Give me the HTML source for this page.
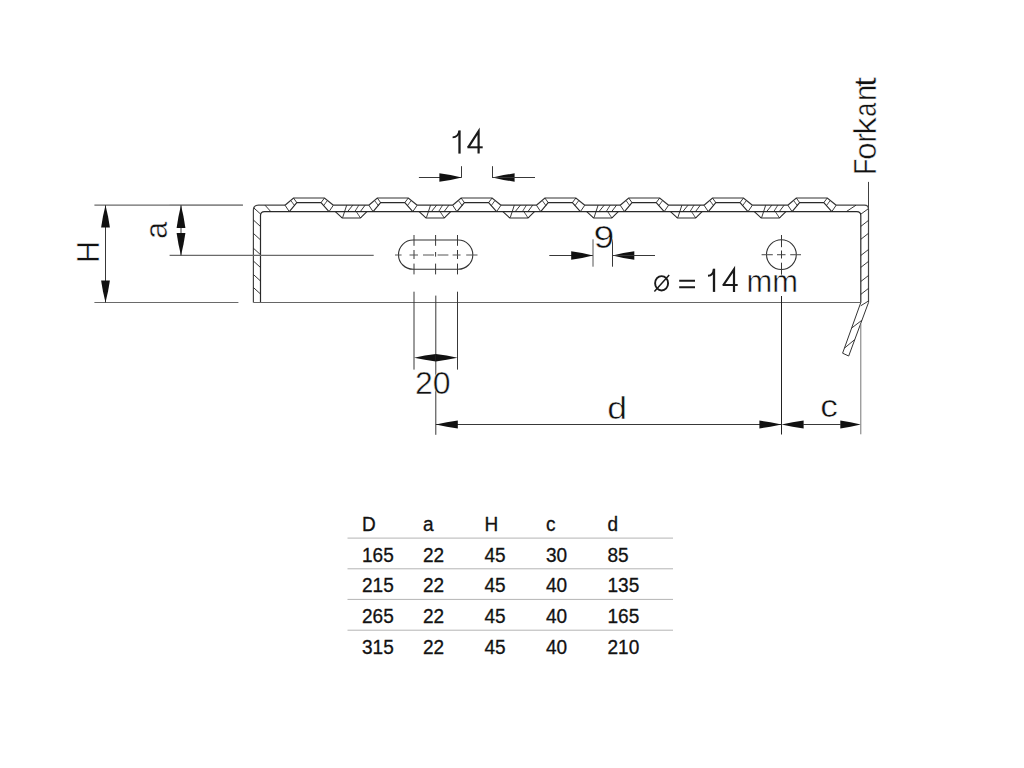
<!DOCTYPE html>
<html><head><meta charset="utf-8"><title>Drawing</title>
<style>
html,body{margin:0;padding:0;background:#fff;width:1024px;height:768px;overflow:hidden}
svg{position:absolute;left:0;top:0;display:block}
text{font-family:"Liberation Sans",sans-serif;fill:#111}
</style></head><body>
<svg width="1024" height="768" viewBox="0 0 1024 768">
<rect width="1024" height="768" fill="#fff"/>
<g stroke-linecap="butt">
<path d="M253.4,302.5 L253.4,210.2 Q253.4,205.2 258.4,205.2 L285,205.2" stroke="#444" stroke-width="1.2" fill="none"/>
<path d="M260.5,302.5 L260.5,215.6 Q260.5,211.6 264.5,211.6 L856.8,211.6 Q860.8,211.6 860.8,215.6 L860.8,302.5" stroke="#2a2a2a" stroke-width="1.2" fill="none"/>
<path d="M836.2,205.2 L864.5,205.2 Q868.5,205.2 868.5,209.2 L868.5,302.5" stroke="#444" stroke-width="1.2" fill="none"/>
<line x1="253.40" y1="302.50" x2="860.80" y2="302.50" stroke="#666" stroke-width="1.2"/>
<line x1="253.80" y1="207.90" x2="260.50" y2="214.00" stroke="#222" stroke-width="0.9"/>
<line x1="868.10" y1="208.90" x2="860.80" y2="214.20" stroke="#222" stroke-width="0.9"/>
<line x1="868.50" y1="181.90" x2="868.50" y2="208.20" stroke="#404040" stroke-width="1.0"/>
<line x1="265.00" y1="205.20" x2="270.80" y2="211.60" stroke="#222" stroke-width="0.9"/>
<line x1="846.30" y1="211.60" x2="856.00" y2="205.20" stroke="#222" stroke-width="0.9"/>
<line x1="253.40" y1="220.00" x2="260.50" y2="226.50" stroke="#222" stroke-width="0.9"/>
<line x1="253.40" y1="233.40" x2="260.50" y2="239.90" stroke="#222" stroke-width="0.9"/>
<line x1="253.40" y1="248.20" x2="260.50" y2="254.70" stroke="#222" stroke-width="0.9"/>
<line x1="253.40" y1="261.00" x2="260.50" y2="267.50" stroke="#222" stroke-width="0.9"/>
<line x1="253.40" y1="274.50" x2="260.50" y2="281.00" stroke="#222" stroke-width="0.9"/>
<line x1="253.40" y1="287.50" x2="260.50" y2="294.00" stroke="#222" stroke-width="0.9"/>
<line x1="860.80" y1="226.40" x2="868.50" y2="220.40" stroke="#222" stroke-width="0.9"/>
<line x1="860.80" y1="239.30" x2="868.50" y2="233.30" stroke="#222" stroke-width="0.9"/>
<line x1="860.80" y1="255.50" x2="868.50" y2="249.50" stroke="#222" stroke-width="0.9"/>
<line x1="860.80" y1="267.40" x2="868.50" y2="261.40" stroke="#222" stroke-width="0.9"/>
<line x1="860.80" y1="281.50" x2="868.50" y2="275.50" stroke="#222" stroke-width="0.9"/>
<line x1="860.80" y1="294.40" x2="868.50" y2="288.40" stroke="#222" stroke-width="0.9"/>
<path d="M285.00,205.2 L293.50,198.0 L324.50,198.0 L333.40,205.2" stroke="#333" stroke-width="1.2" fill="none"/>
<path d="M289.30,211.6 L296.80,202.6 L321.00,202.6 L329.00,211.6" stroke="#2a2a2a" stroke-width="1.1" fill="none"/>
<line x1="285.00" y1="205.20" x2="289.30" y2="211.60" stroke="#222" stroke-width="0.9"/>
<line x1="293.50" y1="198.00" x2="296.80" y2="202.60" stroke="#222" stroke-width="0.9"/>
<line x1="324.50" y1="198.00" x2="321.00" y2="202.60" stroke="#222" stroke-width="0.9"/>
<line x1="333.40" y1="205.20" x2="329.00" y2="211.60" stroke="#222" stroke-width="0.9"/>
<line x1="291.10" y1="200.90" x2="294.70" y2="205.80" stroke="#222" stroke-width="0.8"/>
<line x1="327.10" y1="200.90" x2="323.50" y2="205.80" stroke="#222" stroke-width="0.8"/>
<line x1="333.40" y1="205.20" x2="368.80" y2="205.20" stroke="#333" stroke-width="1.2"/>
<path d="M335.30,211.6 L341.30,217.2 Q342.30,218.0 343.30,218.0 L359.30,218.0 Q360.30,218.0 361.30,217.2 L366.90,211.6" stroke="#2a2a2a" stroke-width="1.1" fill="none"/>
<line x1="342.70" y1="217.40" x2="346.70" y2="205.20" stroke="#222" stroke-width="0.9"/>
<line x1="347.60" y1="211.60" x2="352.80" y2="205.20" stroke="#222" stroke-width="0.9"/>
<line x1="354.80" y1="211.60" x2="358.80" y2="205.20" stroke="#222" stroke-width="0.8"/>
<line x1="360.30" y1="211.60" x2="365.10" y2="205.20" stroke="#222" stroke-width="0.9"/>
<line x1="356.30" y1="211.60" x2="360.30" y2="217.70" stroke="#222" stroke-width="0.8"/>
<path d="M368.80,205.2 L377.30,198.0 L408.30,198.0 L417.20,205.2" stroke="#333" stroke-width="1.2" fill="none"/>
<path d="M373.10,211.6 L380.60,202.6 L404.80,202.6 L412.80,211.6" stroke="#2a2a2a" stroke-width="1.1" fill="none"/>
<line x1="368.80" y1="205.20" x2="373.10" y2="211.60" stroke="#222" stroke-width="0.9"/>
<line x1="377.30" y1="198.00" x2="380.60" y2="202.60" stroke="#222" stroke-width="0.9"/>
<line x1="408.30" y1="198.00" x2="404.80" y2="202.60" stroke="#222" stroke-width="0.9"/>
<line x1="417.20" y1="205.20" x2="412.80" y2="211.60" stroke="#222" stroke-width="0.9"/>
<line x1="374.90" y1="200.90" x2="378.50" y2="205.80" stroke="#222" stroke-width="0.8"/>
<line x1="410.90" y1="200.90" x2="407.30" y2="205.80" stroke="#222" stroke-width="0.8"/>
<line x1="417.20" y1="205.20" x2="452.60" y2="205.20" stroke="#333" stroke-width="1.2"/>
<path d="M419.10,211.6 L425.10,217.2 Q426.10,218.0 427.10,218.0 L443.10,218.0 Q444.10,218.0 445.10,217.2 L450.70,211.6" stroke="#2a2a2a" stroke-width="1.1" fill="none"/>
<line x1="426.50" y1="217.40" x2="430.50" y2="205.20" stroke="#222" stroke-width="0.9"/>
<line x1="431.40" y1="211.60" x2="436.60" y2="205.20" stroke="#222" stroke-width="0.9"/>
<line x1="438.60" y1="211.60" x2="442.60" y2="205.20" stroke="#222" stroke-width="0.8"/>
<line x1="444.10" y1="211.60" x2="448.90" y2="205.20" stroke="#222" stroke-width="0.9"/>
<line x1="440.10" y1="211.60" x2="444.10" y2="217.70" stroke="#222" stroke-width="0.8"/>
<path d="M452.60,205.2 L461.10,198.0 L492.10,198.0 L501.00,205.2" stroke="#333" stroke-width="1.2" fill="none"/>
<path d="M456.90,211.6 L464.40,202.6 L488.60,202.6 L496.60,211.6" stroke="#2a2a2a" stroke-width="1.1" fill="none"/>
<line x1="452.60" y1="205.20" x2="456.90" y2="211.60" stroke="#222" stroke-width="0.9"/>
<line x1="461.10" y1="198.00" x2="464.40" y2="202.60" stroke="#222" stroke-width="0.9"/>
<line x1="492.10" y1="198.00" x2="488.60" y2="202.60" stroke="#222" stroke-width="0.9"/>
<line x1="501.00" y1="205.20" x2="496.60" y2="211.60" stroke="#222" stroke-width="0.9"/>
<line x1="458.70" y1="200.90" x2="462.30" y2="205.80" stroke="#222" stroke-width="0.8"/>
<line x1="494.70" y1="200.90" x2="491.10" y2="205.80" stroke="#222" stroke-width="0.8"/>
<line x1="501.00" y1="205.20" x2="536.40" y2="205.20" stroke="#333" stroke-width="1.2"/>
<path d="M502.90,211.6 L508.90,217.2 Q509.90,218.0 510.90,218.0 L526.90,218.0 Q527.90,218.0 528.90,217.2 L534.50,211.6" stroke="#2a2a2a" stroke-width="1.1" fill="none"/>
<line x1="510.30" y1="217.40" x2="514.30" y2="205.20" stroke="#222" stroke-width="0.9"/>
<line x1="515.20" y1="211.60" x2="520.40" y2="205.20" stroke="#222" stroke-width="0.9"/>
<line x1="522.40" y1="211.60" x2="526.40" y2="205.20" stroke="#222" stroke-width="0.8"/>
<line x1="527.90" y1="211.60" x2="532.70" y2="205.20" stroke="#222" stroke-width="0.9"/>
<line x1="523.90" y1="211.60" x2="527.90" y2="217.70" stroke="#222" stroke-width="0.8"/>
<path d="M536.40,205.2 L544.90,198.0 L575.90,198.0 L584.80,205.2" stroke="#333" stroke-width="1.2" fill="none"/>
<path d="M540.70,211.6 L548.20,202.6 L572.40,202.6 L580.40,211.6" stroke="#2a2a2a" stroke-width="1.1" fill="none"/>
<line x1="536.40" y1="205.20" x2="540.70" y2="211.60" stroke="#222" stroke-width="0.9"/>
<line x1="544.90" y1="198.00" x2="548.20" y2="202.60" stroke="#222" stroke-width="0.9"/>
<line x1="575.90" y1="198.00" x2="572.40" y2="202.60" stroke="#222" stroke-width="0.9"/>
<line x1="584.80" y1="205.20" x2="580.40" y2="211.60" stroke="#222" stroke-width="0.9"/>
<line x1="542.50" y1="200.90" x2="546.10" y2="205.80" stroke="#222" stroke-width="0.8"/>
<line x1="578.50" y1="200.90" x2="574.90" y2="205.80" stroke="#222" stroke-width="0.8"/>
<line x1="584.80" y1="205.20" x2="620.20" y2="205.20" stroke="#333" stroke-width="1.2"/>
<path d="M586.70,211.6 L592.70,217.2 Q593.70,218.0 594.70,218.0 L610.70,218.0 Q611.70,218.0 612.70,217.2 L618.30,211.6" stroke="#2a2a2a" stroke-width="1.1" fill="none"/>
<line x1="594.10" y1="217.40" x2="598.10" y2="205.20" stroke="#222" stroke-width="0.9"/>
<line x1="599.00" y1="211.60" x2="604.20" y2="205.20" stroke="#222" stroke-width="0.9"/>
<line x1="606.20" y1="211.60" x2="610.20" y2="205.20" stroke="#222" stroke-width="0.8"/>
<line x1="611.70" y1="211.60" x2="616.50" y2="205.20" stroke="#222" stroke-width="0.9"/>
<line x1="607.70" y1="211.60" x2="611.70" y2="217.70" stroke="#222" stroke-width="0.8"/>
<path d="M620.20,205.2 L628.70,198.0 L659.70,198.0 L668.60,205.2" stroke="#333" stroke-width="1.2" fill="none"/>
<path d="M624.50,211.6 L632.00,202.6 L656.20,202.6 L664.20,211.6" stroke="#2a2a2a" stroke-width="1.1" fill="none"/>
<line x1="620.20" y1="205.20" x2="624.50" y2="211.60" stroke="#222" stroke-width="0.9"/>
<line x1="628.70" y1="198.00" x2="632.00" y2="202.60" stroke="#222" stroke-width="0.9"/>
<line x1="659.70" y1="198.00" x2="656.20" y2="202.60" stroke="#222" stroke-width="0.9"/>
<line x1="668.60" y1="205.20" x2="664.20" y2="211.60" stroke="#222" stroke-width="0.9"/>
<line x1="626.30" y1="200.90" x2="629.90" y2="205.80" stroke="#222" stroke-width="0.8"/>
<line x1="662.30" y1="200.90" x2="658.70" y2="205.80" stroke="#222" stroke-width="0.8"/>
<line x1="668.60" y1="205.20" x2="704.00" y2="205.20" stroke="#333" stroke-width="1.2"/>
<path d="M670.50,211.6 L676.50,217.2 Q677.50,218.0 678.50,218.0 L694.50,218.0 Q695.50,218.0 696.50,217.2 L702.10,211.6" stroke="#2a2a2a" stroke-width="1.1" fill="none"/>
<line x1="677.90" y1="217.40" x2="681.90" y2="205.20" stroke="#222" stroke-width="0.9"/>
<line x1="682.80" y1="211.60" x2="688.00" y2="205.20" stroke="#222" stroke-width="0.9"/>
<line x1="690.00" y1="211.60" x2="694.00" y2="205.20" stroke="#222" stroke-width="0.8"/>
<line x1="695.50" y1="211.60" x2="700.30" y2="205.20" stroke="#222" stroke-width="0.9"/>
<line x1="691.50" y1="211.60" x2="695.50" y2="217.70" stroke="#222" stroke-width="0.8"/>
<path d="M704.00,205.2 L712.50,198.0 L743.50,198.0 L752.40,205.2" stroke="#333" stroke-width="1.2" fill="none"/>
<path d="M708.30,211.6 L715.80,202.6 L740.00,202.6 L748.00,211.6" stroke="#2a2a2a" stroke-width="1.1" fill="none"/>
<line x1="704.00" y1="205.20" x2="708.30" y2="211.60" stroke="#222" stroke-width="0.9"/>
<line x1="712.50" y1="198.00" x2="715.80" y2="202.60" stroke="#222" stroke-width="0.9"/>
<line x1="743.50" y1="198.00" x2="740.00" y2="202.60" stroke="#222" stroke-width="0.9"/>
<line x1="752.40" y1="205.20" x2="748.00" y2="211.60" stroke="#222" stroke-width="0.9"/>
<line x1="710.10" y1="200.90" x2="713.70" y2="205.80" stroke="#222" stroke-width="0.8"/>
<line x1="746.10" y1="200.90" x2="742.50" y2="205.80" stroke="#222" stroke-width="0.8"/>
<line x1="752.40" y1="205.20" x2="787.80" y2="205.20" stroke="#333" stroke-width="1.2"/>
<path d="M754.30,211.6 L760.30,217.2 Q761.30,218.0 762.30,218.0 L778.30,218.0 Q779.30,218.0 780.30,217.2 L785.90,211.6" stroke="#2a2a2a" stroke-width="1.1" fill="none"/>
<line x1="761.70" y1="217.40" x2="765.70" y2="205.20" stroke="#222" stroke-width="0.9"/>
<line x1="766.60" y1="211.60" x2="771.80" y2="205.20" stroke="#222" stroke-width="0.9"/>
<line x1="773.80" y1="211.60" x2="777.80" y2="205.20" stroke="#222" stroke-width="0.8"/>
<line x1="779.30" y1="211.60" x2="784.10" y2="205.20" stroke="#222" stroke-width="0.9"/>
<line x1="775.30" y1="211.60" x2="779.30" y2="217.70" stroke="#222" stroke-width="0.8"/>
<path d="M787.80,205.2 L796.30,198.0 L827.30,198.0 L836.20,205.2" stroke="#333" stroke-width="1.2" fill="none"/>
<path d="M792.10,211.6 L799.60,202.6 L823.80,202.6 L831.80,211.6" stroke="#2a2a2a" stroke-width="1.1" fill="none"/>
<line x1="787.80" y1="205.20" x2="792.10" y2="211.60" stroke="#222" stroke-width="0.9"/>
<line x1="796.30" y1="198.00" x2="799.60" y2="202.60" stroke="#222" stroke-width="0.9"/>
<line x1="827.30" y1="198.00" x2="823.80" y2="202.60" stroke="#222" stroke-width="0.9"/>
<line x1="836.20" y1="205.20" x2="831.80" y2="211.60" stroke="#222" stroke-width="0.9"/>
<line x1="793.90" y1="200.90" x2="797.50" y2="205.80" stroke="#222" stroke-width="0.8"/>
<line x1="829.90" y1="200.90" x2="826.30" y2="205.80" stroke="#222" stroke-width="0.8"/>
<path d="M868.5,302.5 L848.7,356 L842.6,353.2 L860.8,302.5" stroke="#333" stroke-width="1.0" fill="none"/>
<line x1="860.70" y1="305.80" x2="868.50" y2="301.00" stroke="#222" stroke-width="0.9"/>
<line x1="861.70" y1="320.40" x2="851.70" y2="328.00" stroke="#222" stroke-width="0.9"/>
<line x1="854.60" y1="339.70" x2="844.60" y2="348.00" stroke="#222" stroke-width="0.9"/>
<line x1="94.40" y1="205.20" x2="242.90" y2="205.20" stroke="#6a6a6a" stroke-width="1.2"/>
<line x1="94.40" y1="302.50" x2="238.40" y2="302.50" stroke="#6a6a6a" stroke-width="1.2"/>
<line x1="105.50" y1="205.20" x2="105.50" y2="302.50" stroke="#383838" stroke-width="1.0"/>
<polygon points="105.50,205.20 102.99,216.35 101.10,227.50 109.90,227.50 108.01,216.35" fill="#111"/>
<polygon points="105.50,302.50 108.01,291.50 109.90,280.50 101.10,280.50 102.99,291.50" fill="#111"/>
<line x1="169.60" y1="205.20" x2="242.90" y2="205.20" stroke="#888" stroke-width="1.0"/>
<line x1="169.60" y1="255.40" x2="373.70" y2="255.40" stroke="#6a6a6a" stroke-width="1.2"/>
<line x1="181.00" y1="205.20" x2="181.00" y2="255.40" stroke="#383838" stroke-width="1.0"/>
<polygon points="181.00,205.20 178.49,216.55 176.60,227.90 185.40,227.90 183.51,216.55" fill="#111"/>
<polygon points="181.00,255.40 183.51,244.15 185.40,232.90 176.60,232.90 178.49,244.15" fill="#111"/>
<line x1="418.90" y1="177.50" x2="461.70" y2="177.50" stroke="#383838" stroke-width="1.0"/>
<polygon points="461.70,177.50 450.55,175.11 439.40,173.30 439.40,181.70 450.55,179.89" fill="#111"/>
<line x1="461.50" y1="166.20" x2="461.50" y2="177.50" stroke="#383838" stroke-width="1.0"/>
<line x1="492.50" y1="166.20" x2="492.50" y2="177.50" stroke="#383838" stroke-width="1.0"/>
<polygon points="492.50,177.50 503.55,179.89 514.60,181.70 514.60,173.30 503.55,175.11" fill="#111"/>
<line x1="492.00" y1="177.50" x2="535.00" y2="177.50" stroke="#383838" stroke-width="1.0"/>
<line x1="549.30" y1="255.50" x2="593.00" y2="255.50" stroke="#383838" stroke-width="1.0"/>
<polygon points="593.00,255.50 582.10,253.11 571.20,251.30 571.20,259.70 582.10,257.89" fill="#111"/>
<line x1="593.00" y1="239.30" x2="593.00" y2="266.70" stroke="#555" stroke-width="1.0"/>
<line x1="612.50" y1="239.30" x2="612.50" y2="266.70" stroke="#383838" stroke-width="1.0"/>
<polygon points="612.50,255.50 623.40,257.89 634.30,259.70 634.30,251.30 623.40,253.11" fill="#111"/>
<line x1="612.50" y1="255.50" x2="655.00" y2="255.50" stroke="#383838" stroke-width="1.0"/>
<rect x="398.5" y="240" width="74.3" height="29.3" rx="14.65" fill="none" stroke="#333" stroke-width="1.1"/>
<line x1="414.00" y1="235.00" x2="414.00" y2="245.80" stroke="#383838" stroke-width="1.0"/>
<line x1="414.00" y1="250.00" x2="414.00" y2="259.00" stroke="#383838" stroke-width="1.0"/>
<line x1="414.00" y1="263.60" x2="414.00" y2="274.40" stroke="#383838" stroke-width="1.0"/>
<line x1="435.60" y1="235.00" x2="435.60" y2="245.80" stroke="#383838" stroke-width="1.0"/>
<line x1="435.60" y1="252.00" x2="435.60" y2="256.60" stroke="#383838" stroke-width="1.0"/>
<line x1="435.60" y1="263.60" x2="435.60" y2="274.40" stroke="#383838" stroke-width="1.0"/>
<line x1="457.50" y1="235.00" x2="457.50" y2="245.80" stroke="#383838" stroke-width="1.0"/>
<line x1="457.50" y1="250.00" x2="457.50" y2="259.00" stroke="#383838" stroke-width="1.0"/>
<line x1="457.50" y1="263.60" x2="457.50" y2="274.40" stroke="#383838" stroke-width="1.0"/>
<line x1="395.00" y1="255.00" x2="401.60" y2="255.00" stroke="#555" stroke-width="1.0"/>
<line x1="409.50" y1="255.00" x2="418.00" y2="255.00" stroke="#555" stroke-width="1.0"/>
<line x1="423.00" y1="255.00" x2="434.00" y2="255.00" stroke="#555" stroke-width="1.0"/>
<line x1="437.60" y1="255.00" x2="448.40" y2="255.00" stroke="#555" stroke-width="1.0"/>
<line x1="452.60" y1="255.00" x2="460.60" y2="255.00" stroke="#555" stroke-width="1.0"/>
<line x1="466.20" y1="255.00" x2="477.50" y2="255.00" stroke="#555" stroke-width="1.0"/>
<line x1="414.00" y1="291.70" x2="414.00" y2="369.60" stroke="#383838" stroke-width="1.0"/>
<line x1="457.50" y1="291.70" x2="457.50" y2="369.60" stroke="#383838" stroke-width="1.0"/>
<line x1="435.80" y1="295.60" x2="435.80" y2="434.80" stroke="#383838" stroke-width="1.0"/>
<polygon points="414.00,357.70 424.90,359.87 435.80,361.50 435.80,353.90 424.90,355.53" fill="#111"/>
<polygon points="457.50,357.70 446.65,355.53 435.80,353.90 435.80,361.50 446.65,359.87" fill="#111"/>
<circle cx="781.4" cy="254.6" r="14.9" fill="none" stroke="#333" stroke-width="1.1"/>
<line x1="761.60" y1="254.70" x2="772.80" y2="254.70" stroke="#555" stroke-width="1.1"/>
<line x1="777.00" y1="254.70" x2="785.50" y2="254.70" stroke="#555" stroke-width="1.1"/>
<line x1="790.20" y1="254.70" x2="801.00" y2="254.70" stroke="#555" stroke-width="1.1"/>
<line x1="781.50" y1="235.00" x2="781.50" y2="247.20" stroke="#383838" stroke-width="1.0"/>
<line x1="781.50" y1="250.50" x2="781.50" y2="258.50" stroke="#383838" stroke-width="1.0"/>
<line x1="781.50" y1="262.70" x2="781.50" y2="274.90" stroke="#383838" stroke-width="1.0"/>
<line x1="781.50" y1="296.00" x2="781.50" y2="434.50" stroke="#222" stroke-width="1.0"/>
<line x1="435.80" y1="424.50" x2="781.50" y2="424.50" stroke="#383838" stroke-width="1.0"/>
<polygon points="435.80,424.50 446.80,426.78 457.80,428.50 457.80,420.50 446.80,422.22" fill="#111"/>
<polygon points="781.50,424.50 770.45,422.22 759.40,420.50 759.40,428.50 770.45,426.78" fill="#111"/>
<polygon points="781.50,424.50 792.55,426.78 803.60,428.50 803.60,420.50 792.55,422.22" fill="#111"/>
<polygon points="860.80,424.50 850.55,422.22 840.30,420.50 840.30,428.50 850.55,426.78" fill="#111"/>
<line x1="803.00" y1="424.50" x2="841.00" y2="424.50" stroke="#383838" stroke-width="1.0"/>
<line x1="860.80" y1="324.00" x2="860.80" y2="434.30" stroke="#777" stroke-width="1.0"/>
<path d="M452.6,137.4 Q458.2,137.2 459.3,131.2" fill="none" stroke="#1a1a1a" stroke-width="1.9"/>
<path d="M459.5,130.4 L459.5,153.6" fill="none" stroke="#1a1a1a" stroke-width="2.3"/>
<path d="M478.6,153.6 L478.6,131.2 L468.2,147.3" fill="none" stroke="#1a1a1a" stroke-width="2.2"/>
<path d="M467.4,147.3 L482.7,147.3" fill="none" stroke="#1a1a1a" stroke-width="2.0"/>
<path d="M708,275.8 Q713.1,275.6 713.8,269.4" fill="none" stroke="#1a1a1a" stroke-width="1.9"/>
<path d="M714,268.7 L714,291.9" fill="none" stroke="#1a1a1a" stroke-width="2.3"/>
<path d="M734,291.9 L734,269.4 L723.4,285" fill="none" stroke="#1a1a1a" stroke-width="2.2"/>
<path d="M722.6,285 L737.7,285" fill="none" stroke="#1a1a1a" stroke-width="2.0"/>
<path d="M679.2,280.8 L695,280.8 M679.2,287.3 L695,287.3" fill="none" stroke="#1a1a1a" stroke-width="2.0"/>
<ellipse cx="661.6" cy="283.3" rx="6.5" ry="7.2" fill="none" stroke="#1a1a1a" stroke-width="1.9"/>
<path d="M654.4,291.6 L669.2,275" fill="none" stroke="#1a1a1a" stroke-width="1.5"/>
</g>
<g stroke="#fff" stroke-width="0.5">

<text transform="translate(98.9,263) rotate(-90)" font-size="30.5">H</text>
<text transform="translate(167,239) rotate(-90)" font-size="31">a</text>
<text x="593.6" y="247.8" font-size="32" textLength="20.8" lengthAdjust="spacingAndGlyphs">9</text>
<text x="746.5" y="291.9" font-size="31.5" textLength="51.5" lengthAdjust="spacingAndGlyphs">mm</text>
<text x="415" y="394.2" font-size="32">20</text>
<text x="607.3" y="418.5" font-size="32" textLength="19.8" lengthAdjust="spacingAndGlyphs">d</text>
<text x="820.2" y="417.2" font-size="31.5" textLength="17.6" lengthAdjust="spacingAndGlyphs">c</text>
<text x="0.81" y="0" transform="translate(875.8,175.3) rotate(-90)" font-size="30.5" textLength="15.73" lengthAdjust="spacingAndGlyphs">F</text>
<text x="15.59" y="0" transform="translate(875.8,175.3) rotate(-90)" font-size="30.5" textLength="17.19" lengthAdjust="spacingAndGlyphs">o</text>
<text x="32.92" y="0" transform="translate(875.8,175.3) rotate(-90)" font-size="30.5" textLength="9.53" lengthAdjust="spacingAndGlyphs">r</text>
<text x="40.26" y="0" transform="translate(875.8,175.3) rotate(-90)" font-size="30.5" textLength="17.83" lengthAdjust="spacingAndGlyphs">k</text>
<text x="58.57" y="0" transform="translate(875.8,175.3) rotate(-90)" font-size="30.5" textLength="13.99" lengthAdjust="spacingAndGlyphs">a</text>
<text x="74.28" y="0" transform="translate(875.8,175.3) rotate(-90)" font-size="30.5" textLength="16.31" lengthAdjust="spacingAndGlyphs">n</text>
<text x="88.30" y="0" transform="translate(875.8,175.3) rotate(-90)" font-size="30.5" textLength="10.07" lengthAdjust="spacingAndGlyphs">t</text>

</g>
<g stroke="#1a1a1a" stroke-width="0.3">
<text transform="translate(362,531) scale(1.03,1.07)" font-size="18.5">D</text>
<text transform="translate(423,531) scale(1.03,1.07)" font-size="18.5">a</text>
<text transform="translate(484.5,531) scale(1.03,1.07)" font-size="18.5">H</text>
<text transform="translate(546,531) scale(1.03,1.07)" font-size="18.5">c</text>
<text transform="translate(607.5,531) scale(1.03,1.07)" font-size="18.5">d</text>
<text transform="translate(362,561.7) scale(1.03,1.07)" font-size="18.5">165</text>
<text transform="translate(423,561.7) scale(1.03,1.07)" font-size="18.5">22</text>
<text transform="translate(484.5,561.7) scale(1.03,1.07)" font-size="18.5">45</text>
<text transform="translate(546,561.7) scale(1.03,1.07)" font-size="18.5">30</text>
<text transform="translate(607.5,561.7) scale(1.03,1.07)" font-size="18.5">85</text>
<text transform="translate(362,592.4) scale(1.03,1.07)" font-size="18.5">215</text>
<text transform="translate(423,592.4) scale(1.03,1.07)" font-size="18.5">22</text>
<text transform="translate(484.5,592.4) scale(1.03,1.07)" font-size="18.5">45</text>
<text transform="translate(546,592.4) scale(1.03,1.07)" font-size="18.5">40</text>
<text transform="translate(607.5,592.4) scale(1.03,1.07)" font-size="18.5">135</text>
<text transform="translate(362,623.1) scale(1.03,1.07)" font-size="18.5">265</text>
<text transform="translate(423,623.1) scale(1.03,1.07)" font-size="18.5">22</text>
<text transform="translate(484.5,623.1) scale(1.03,1.07)" font-size="18.5">45</text>
<text transform="translate(546,623.1) scale(1.03,1.07)" font-size="18.5">40</text>
<text transform="translate(607.5,623.1) scale(1.03,1.07)" font-size="18.5">165</text>
<text transform="translate(362,653.8) scale(1.03,1.07)" font-size="18.5">315</text>
<text transform="translate(423,653.8) scale(1.03,1.07)" font-size="18.5">22</text>
<text transform="translate(484.5,653.8) scale(1.03,1.07)" font-size="18.5">45</text>
<text transform="translate(546,653.8) scale(1.03,1.07)" font-size="18.5">40</text>
<text transform="translate(607.5,653.8) scale(1.03,1.07)" font-size="18.5">210</text>
<line x1="347.5" y1="538.1" x2="673" y2="538.1" stroke="#b4b4b4" stroke-width="1.0"/>
<line x1="347.5" y1="568.8" x2="673" y2="568.8" stroke="#b4b4b4" stroke-width="1.0"/>
<line x1="347.5" y1="599.4" x2="673" y2="599.4" stroke="#b4b4b4" stroke-width="1.0"/>
<line x1="347.5" y1="630.2" x2="673" y2="630.2" stroke="#b4b4b4" stroke-width="1.0"/>
</g>
</svg>
</body></html>
